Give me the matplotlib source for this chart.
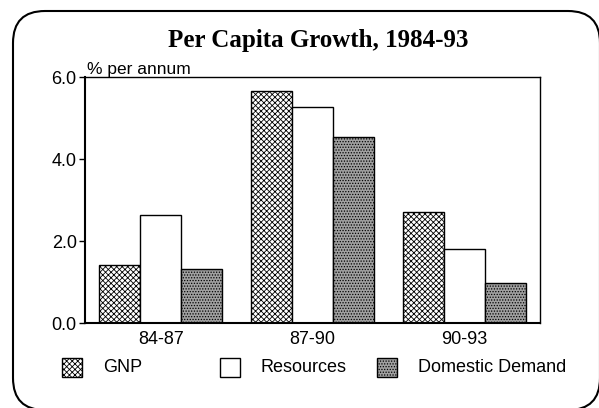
import matplotlib.pyplot as plt
import numpy as np
from matplotlib.patches import FancyBboxPatch, Rectangle

plt.rcParams['font.family'] = ['Liberation Sans', 'DejaVu Sans']
plt.rcParams['hatch.linewidth'] = 0.6

periods = ['84-87', '87-90', '90-93']
series = ['GNP', 'Resources', 'Domestic Demand']
gnp = [1.41, 5.67, 2.71]
resources = [2.63, 5.28, 1.80]
domestic = [1.32, 4.54, 0.97]

styles = [
    dict(facecolor='white', hatch='xxxxxx'),
    dict(facecolor='white', hatch=None),
    dict(facecolor='#a0a0a0', hatch='......'),
]

W, H = 599, 408
fig = plt.figure(figsize=(W / 100, H / 100), dpi=100)

# rounded outer frame (inch coordinates so the corners stay circular)
frame = FancyBboxPatch((0.13, -0.02), 5.87, 3.99,
                       boxstyle='round,pad=0,rounding_size=0.32',
                       transform=fig.dpi_scale_trans, facecolor='none',
                       edgecolor='black', linewidth=1.5)
fig.add_artist(frame)

ax = fig.add_axes([85 / W, 85 / H, 455 / W, 246 / H])
x = np.arange(len(periods))
width = 0.27
for i, (vals, st) in enumerate(zip([gnp, resources, domestic], styles)):
    ax.bar(x + (i - 1) * width, vals, width, edgecolor='black', linewidth=1.0,
           facecolor=st['facecolor'], hatch=st['hatch'])

ax.set_xlim(-0.5, 2.5)
ax.set_ylim(0, 6.0)
ax.set_yticks([0, 2, 4, 6])
ax.set_yticklabels(['0.0', '2.0', '4.0', '6.0'], fontsize=13)
ax.set_xticks(x)
ax.set_xticklabels(periods, fontsize=13)
ax.tick_params(axis='x', length=0, pad=6)
ax.tick_params(axis='y', length=4, width=1, pad=2)
for sp in ax.spines.values():
    sp.set_linewidth(1.0)
ax.spines['left'].set_linewidth(1.5)
ax.spines['bottom'].set_linewidth(1.5)

ax.text(0.005, 1.0, '% per annum', transform=ax.transAxes, fontsize=12.5,
        ha='left', va='bottom')

fig.text(318 / W, 1 - 40 / H, 'Per Capita Growth, 1984-93', ha='center', va='center',
         fontsize=18, fontweight='bold', family='Liberation Serif')

# legend
patch_x = [62, 220, 377]
for px, name, st in zip(patch_x, series, styles):
    r = Rectangle((px / W, 1 - 377 / H), 20 / W, 19 / H, transform=fig.transFigure,
                  facecolor=st['facecolor'], hatch=st['hatch'], edgecolor='black',
                  linewidth=1.0)
    fig.add_artist(r)
    fig.text((px + 41) / W, 1 - 368 / H, name, fontsize=13, ha='left', va='center')

fig.savefig('out.png', dpi=100)
